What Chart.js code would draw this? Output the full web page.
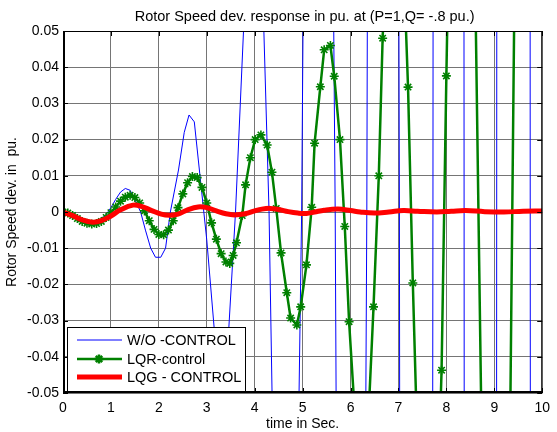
<!DOCTYPE html>
<html>
<head>
<meta charset="utf-8">
<script src="https://cdn.jsdelivr.net/npm/chart.js@4.4.1/dist/chart.umd.min.js"></script>
<style>
    html, body { margin: 0; padding: 0; background: #fff; }
    #wrap { width: 557px; height: 432px; }
</style>
</head>
<body>
<div id="wrap"><canvas id="rotor_speed"></canvas></div>
<script>
// axis ticks
var xTicks = [0, 1, 2, 3, 4, 5, 6, 7, 8, 9, 10];
var yTicks = [-0.05, -0.04, -0.03, -0.02, -0.01, 0, 0.01, 0.02, 0.03, 0.04, 0.05];

var titleText = "Rotor Speed dev. response in pu. at (P=1,Q= -.8 pu.)";
var xTitle = "time in Sec.";
var yTitle = "Rotor Speed dev. in  pu.";
var seriesNames = ["W/O -CONTROL", "LQR-control", "LQG - CONTROL"];

// W/O control (large values run off the axes)
var timeWo = [0, 0.1, 0.2, 0.3, 0.4, 0.5, 0.6, 0.7, 0.8, 0.9, 1.0, 1.1, 1.2, 1.3, 1.4, 1.5,
    1.62, 1.72, 1.83, 1.93, 2.04, 2.14, 2.24, 2.41, 2.53, 2.63, 2.74, 3.0, 3.3, 3.36, 3.6,
    3.85, 4.0, 4.17, 4.3, 4.45, 4.65, 4.85, 4.98, 5.15, 5.33, 5.5, 5.68, 6.0, 6.34, 6.68,
    7.02, 7.37, 7.72, 8.05, 8.37, 8.7, 9.05, 9.4, 9.75, 10.1];
var woControl = [0, -0.0004, -0.0012, -0.002, -0.0026, -0.003, -0.003, -0.0027, -0.0019, -0.0007,
    0.0012, 0.0035, 0.0055, 0.0065, 0.006, 0.0035, 0, -0.005, -0.01, -0.0125, -0.0125, -0.01, 0,
    0.0116, 0.022, 0.0268, 0.0249, -0.0077, -0.055, -0.055, 0, 0.075, 0.1, 0.06, 0, -0.12, -0.2,
    -0.12, 0, 0.3, 0.42, 0.3, 0, -0.85, 0, 1.7, 0, -3.4, 0, 6.8, 0, -13.6, 0, 27, 0, -54];

// LQR control
var timeLqr = [0, 0.1, 0.2, 0.3, 0.4, 0.5, 0.6, 0.7, 0.8, 0.9, 1.0, 1.1, 1.2, 1.3, 1.4, 1.5, 1.6,
    1.7, 1.8, 1.9, 2.0, 2.1, 2.2, 2.3, 2.4, 2.5, 2.6, 2.7, 2.8, 2.9, 3.0, 3.1, 3.2, 3.3, 3.4,
    3.48, 3.55, 3.62, 3.74, 3.81, 3.91, 4.01, 4.13, 4.26, 4.36, 4.45, 4.55, 4.67, 4.75, 4.88,
    4.96, 5.08, 5.19, 5.25, 5.37, 5.45, 5.58, 5.66, 5.78, 5.88, 5.97, 6.1, 6.25, 6.38, 6.48,
    6.59, 6.67, 6.8, 6.92, 7.05, 7.2, 7.3, 7.45, 7.62, 7.75, 7.9, 8.0, 8.15, 8.32, 8.45, 8.6,
    8.75, 8.9, 9.03, 9.2, 9.33, 9.45, 9.7, 9.9, 10.1];
var lqrControl = [0, -0.0003, -0.001, -0.0018, -0.0026, -0.0031, -0.0033, -0.0032, -0.0026, -0.0015,
    -0.0002, 0.0014, 0.003, 0.0041, 0.0046, 0.004, 0.0025, 0.0003, -0.0024, -0.0048,
    -0.0062, -0.0063, -0.005, -0.0024, 0.0012, 0.005, 0.0081, 0.0098, 0.0095, 0.0068,
    0.0025, -0.003, -0.0075, -0.0115, -0.0138,
    -0.0142, -0.012, -0.0085, -0.001, 0.0075, 0.015, 0.02, 0.0213, 0.0185, 0.011,
    0.001, -0.0113, -0.0223, -0.0293, -0.0312, -0.0262, -0.0146, 0.0013, 0.019, 0.0346,
    0.0448, 0.046, 0.0375, 0.02, -0.004, -0.0303, -0.058, -0.072, -0.055, -0.0262,
    0.01, 0.048, 0.09, 0.105, 0.09, 0.0345, -0.0196, -0.09, -0.13, -0.11,
    -0.0437, 0.0376, 0.15, 0.2, 0.15, 0.065, -0.075, -0.2, -0.25, -0.17,
    -0.06, 0.1, 0.4, 0.3, 0.05];

// LQG control
var timeLqg = [0, 0.2, 0.4, 0.62, 0.8, 1.0, 1.2, 1.46, 1.65, 1.85, 2.05, 2.22, 2.4, 2.6, 2.82,
    3.0, 3.2, 3.4, 3.58, 3.8, 4.0, 4.15, 4.32, 4.5, 4.7, 4.9, 5.08, 5.25, 5.45, 5.74, 6.0,
    6.2, 6.5, 6.8, 7.1, 7.4, 7.8, 8.1, 8.4, 8.8, 9.2, 9.6, 10.0];
var lqgControl = [0, -0.001, -0.0022, -0.0028, -0.0024, -0.0011, 0.0006, 0.0019, 0.0015, 0.0004,
    -0.0006, -0.0009, -0.0006, 0.0006, 0.0014, 0.0012, 0.0003, -0.0005, -0.0008, -0.0005,
    0.0003, 0.0008, 0.001, 0.0007, 0.0001, -0.0003, -0.0004, 0, 0.0005, 0.0008,
    0.0004, 0, -0.0003, 0, 0.0004, 0.0002, 0, 0.0002, 0.0004, 0.0001, 0, 0.0002, 0.0003];

var FONT = "'Liberation Sans', Arial, sans-serif";

function toPoints(t, y) {
    var pts = [];
    for (var i = 0; i < t.length; i += 1) {
        pts.push({x: t[i], y: y[i]});
    }
    return pts;
}

// MATLAB-like box, inward ticks, legend and titles
var matlabLook = {
    id: "matlabLook",
    afterDatasetsDraw: function (chart) {
        var ctx = chart.ctx;
        var a = chart.chartArea;
        var xs = chart.scales.x;
        var ys = chart.scales.y;
        ctx.save();
        ctx.strokeStyle = "#000";
        ctx.lineWidth = 1;
        ctx.beginPath();
        xTicks.forEach(function (v) {
            var px = Math.round(xs.getPixelForValue(v)) + 0.5;
            ctx.moveTo(px, a.bottom);
            ctx.lineTo(px, a.bottom - 5);
            ctx.moveTo(px, a.top);
            ctx.lineTo(px, a.top + 5);
        });
        yTicks.forEach(function (v) {
            var py = Math.round(ys.getPixelForValue(v)) + 0.5;
            ctx.moveTo(a.left, py);
            ctx.lineTo(a.left + 5, py);
            ctx.moveTo(a.right, py);
            ctx.lineTo(a.right - 5, py);
        });
        ctx.stroke();
        ctx.strokeRect(a.left + 0.5, a.top + 0.5, a.right - a.left - 1, a.bottom - a.top - 1);
        ctx.lineWidth = 2;
        ctx.beginPath();
        ctx.moveTo(a.left + 1, a.top);
        ctx.lineTo(a.left + 1, a.bottom - 1);
        ctx.lineTo(a.right, a.bottom - 1);
        ctx.stroke();

        // legend box in the lower left corner
        var lx = a.left + 4, ly = a.bottom - 66, lw = 178, lh = 64;
        ctx.fillStyle = "#fff";
        ctx.fillRect(lx, ly, lw, lh);
        ctx.lineWidth = 1;
        ctx.strokeStyle = "#000";
        ctx.strokeRect(lx + 0.5, ly + 0.5, lw, lh);
        ctx.font = "14.5px " + FONT;
        ctx.textBaseline = "middle";
        ctx.textAlign = "left";
        var rows = [13, 32, 50];
        chart.data.datasets.forEach(function (ds, i) {
            var yy = ly + rows[i];
            ctx.strokeStyle = ds.borderColor;
            ctx.lineWidth = ds.borderWidth;
            ctx.beginPath();
            ctx.moveTo(lx + 10, yy);
            ctx.lineTo(lx + 55, yy);
            ctx.stroke();
            if (ds.pointRadius > 0) {
                Chart.helpers.drawPoint(ctx, {
                    pointStyle: ds.pointStyle,
                    radius: ds.pointRadius,
                    borderWidth: ds.pointBorderWidth
                }, lx + 32, yy);
            }
            ctx.fillStyle = "#000";
            ctx.fillText(ds.label, lx + 60, yy + 1);
        });
        ctx.restore();
    },
    afterDraw: function (chart) {
        var ctx = chart.ctx;
        var a = chart.chartArea;
        var cx = (a.left + a.right) / 2;
        ctx.save();
        ctx.fillStyle = "#000";
        ctx.textAlign = "center";
        ctx.textBaseline = "alphabetic";
        ctx.font = "14.5px " + FONT;
        ctx.fillText(titleText, cx + 2, 21);
        ctx.font = "14px " + FONT;
        ctx.fillText(xTitle, cx, 428);
        ctx.translate(16, (a.top + a.bottom) / 2);
        ctx.rotate(-Math.PI / 2);
        ctx.fillText(yTitle, 0, 0);
        ctx.restore();
    }
};

var ctx = document.getElementById("rotor_speed");

var myChart = new Chart(ctx, {
    type: "line",
    data: {
        datasets: [
            {
                label: seriesNames[0],
                data: toPoints(timeWo, woControl),
                borderColor: "#0000ff",
                borderWidth: 1,
                pointRadius: 0,
                tension: 0,
                order: 3
            },
            {
                label: seriesNames[1],
                data: toPoints(timeLqr, lqrControl),
                borderColor: "#008000",
                backgroundColor: "#008000",
                borderWidth: 2.5,
                pointStyle: "star",
                pointRadius: 4.5,
                pointBorderWidth: 1.6,
                pointBorderColor: "#008000",
                tension: 0,
                order: 2
            },
            {
                label: seriesNames[2],
                data: toPoints(timeLqg, lqgControl),
                borderColor: "#ff0000",
                borderWidth: 5,
                pointRadius: 0,
                tension: 0.4,
                order: 1
            }
        ]
    },
    options: {
        responsive: true,
        maintainAspectRatio: false,
        animation: false,
        layout: {padding: {top: 31, right: 8, left: 0, bottom: 0}},
        plugins: {
            legend: {display: false},
            title: {display: false},
            tooltip: {enabled: false}
        },
        scales: {
            x: {
                type: "linear",
                min: 0,
                max: 10,
                afterFit: function (scale) { scale.height = 39; },
                ticks: {
                    stepSize: 1,
                    autoSkip: false,
                    maxRotation: 0,
                    padding: 7,
                    color: "#000",
                    font: {family: FONT, size: 14}
                },
                grid: {color: "#757575", lineWidth: 1, drawTicks: false},
                border: {display: false}
            },
            y: {
                min: -0.05,
                max: 0.05,
                afterFit: function (scale) { scale.width = 63; },
                ticks: {
                    stepSize: 0.01,
                    padding: 4,
                    color: "#000",
                    font: {family: FONT, size: 14},
                    callback: function (v) {
                        if (Math.abs(v) < 1e-9) {
                            return "0";
                        }
                        return v.toFixed(2);
                    }
                },
                grid: {color: "#757575", lineWidth: 1, drawTicks: false},
                border: {display: false}
            }
        }
    },
    plugins: [matlabLook]
});
</script>
</body>
</html>
